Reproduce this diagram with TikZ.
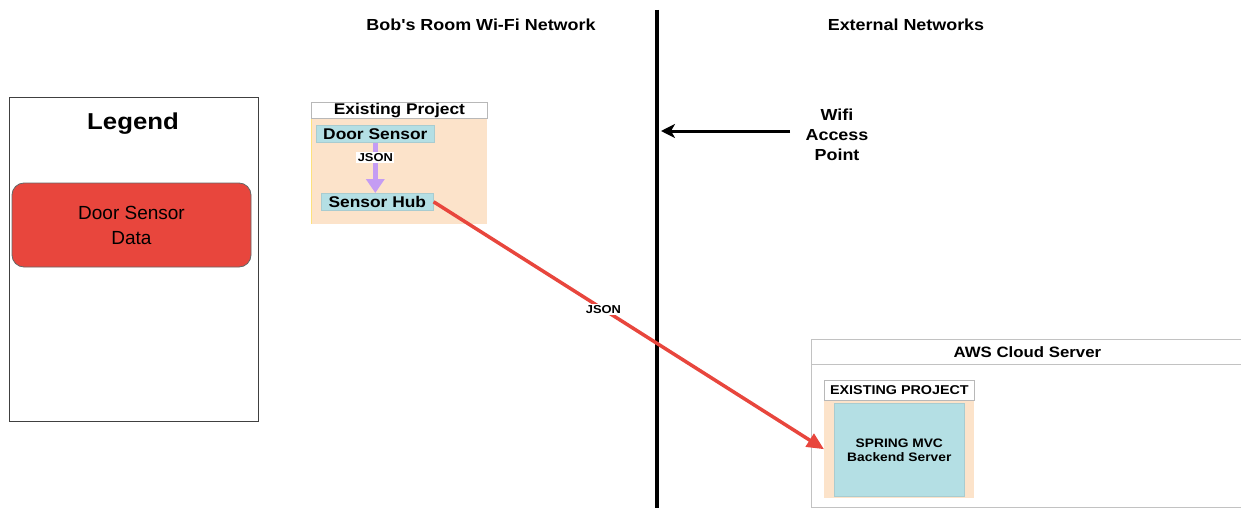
\documentclass[tikz,border=0pt]{standalone}
\usepackage{fontspec}
\setmainfont{Liberation Sans}
\newfontfamily\widesans[FakeStretch=1.12]{Liberation Sans}
\usetikzlibrary{arrows.meta}
\definecolor{keyred}{HTML}{E8463D}
\definecolor{peach}{HTML}{FCE3CA}
\definecolor{nodeblue}{HTML}{B4DFE4}
\definecolor{flowpurple}{HTML}{C49CF3}
\definecolor{boxgray}{HTML}{9A9A9A}
\newcommand{\bsz}[1]{\fontsize{#1}{1.2\dimexpr#1pt\relax}\selectfont\widesans\bfseries}
\tikzset{
  panel/.style={draw=boxgray, line width=1pt, fill=white, anchor=north west, inner sep=0pt},
  header/.style={draw=boxgray!70, line width=0.8pt, fill=white, anchor=north west, inner sep=0pt},
  groupbody/.style={fill=peach, anchor=north west, inner sep=0pt},
  device/.style={fill=nodeblue, draw=nodeblue!80!gray, line width=0.6pt, anchor=north west, inner sep=0pt, font=\bsz{15.5}},
  zonetitle/.style={font=\bsz{16}},
  flowlabel/.style={fill=white, text=black, inner sep=1.5pt, font=\bsz{11.5}},
}
\begin{document}
\begin{tikzpicture}[x=1pt, y=-1pt]
\useasboundingbox[fill=white] (0,0) rectangle (1241,508);

% legend
\node[panel, draw=black!75, minimum width=249, minimum height=324] (legend) at (9,97) {};
\node[font=\bsz{23}] (legendtitle) at (133,124) {Legend};
\node[draw=black!60, line width=0.8pt, fill=keyred, rounded corners=12pt, minimum width=239, minimum height=84,
      align=center, font=\fontsize{19}{25}\selectfont] (key) at (131.5,225) {Door Sensor\\Data};

% zone titles and boundary
\node[zonetitle] (wifizone) at (481,25) {Bob's Room Wi-Fi Network};
\node[zonetitle] (extzone) at (906,25) {External Networks};
\coordinate (divtop) at (657,10);
\coordinate (divbot) at (657,508);
\draw[line width=4pt] (divtop) -- (divbot);

% wifi access point
\node[align=center, font=\fontsize{16}{20}\selectfont\widesans\bfseries] (ap) at (837,135) {Wifi\\Access\\Point};
\coordinate (aptail) at (790,131);
\coordinate (aptip) at (661,131);
\draw[line width=3pt, -{Stealth[length=14pt, width=14pt, inset=4pt]}] (aptail) -- (aptip);

% existing project in the room
\node[groupbody, minimum width=176, minimum height=106] (roombody) at (311,118) {};
\draw[draw=yellow!60!orange!50, line width=1pt] (roombody.north west) -- (roombody.south west);
\node[header, minimum width=176, minimum height=16, font=\bsz{15.5}] (roomhead) at (311,102) {Existing Project};
\node[device, minimum width=118, minimum height=17] (ds) at (316,125) {Door Sensor};
\node[device, minimum width=112, minimum height=17] (hub) at (321,193) {Sensor Hub};
\draw[flowpurple, line width=5pt, -{Triangle[length=14pt, width=18pt]}] (ds.south) -- (ds.south |- hub.north)
  node[flowlabel, pos=0.3] (json1) {JSON};

% AWS cloud server
\node[panel, draw=boxgray!60, line width=0.8pt, minimum width=432, minimum height=168] (aws) at (811,339) {};
\node[header, draw=boxgray!60, minimum width=432, minimum height=25, font=\bsz{15}] (awshead) at (811,339) {AWS Cloud Server};
\node[groupbody, minimum width=150, minimum height=98] (cloudbody) at (824,400) {};
\node[header, minimum width=150, minimum height=20, font=\bsz{12.8}] (cloudhead) at (824,380) {EXISTING PROJECT};
\node[fill=nodeblue, draw=nodeblue!80!gray, line width=0.6pt, anchor=north west, inner sep=0pt,
      minimum width=130, minimum height=93, align=center, font=\fontsize{12.3}{14}\selectfont\widesans\bfseries] (spring) at (834,403)
      {SPRING MVC\\Backend Server};

% data flow to the cloud
\draw[keyred, line width=3.5pt, -{Triangle[length=17pt, width=15pt]}] (hub.east) -- (cloudbody.west)
  node[flowlabel, pos=0.435] (json2) {JSON};
\end{tikzpicture}
\end{document}
